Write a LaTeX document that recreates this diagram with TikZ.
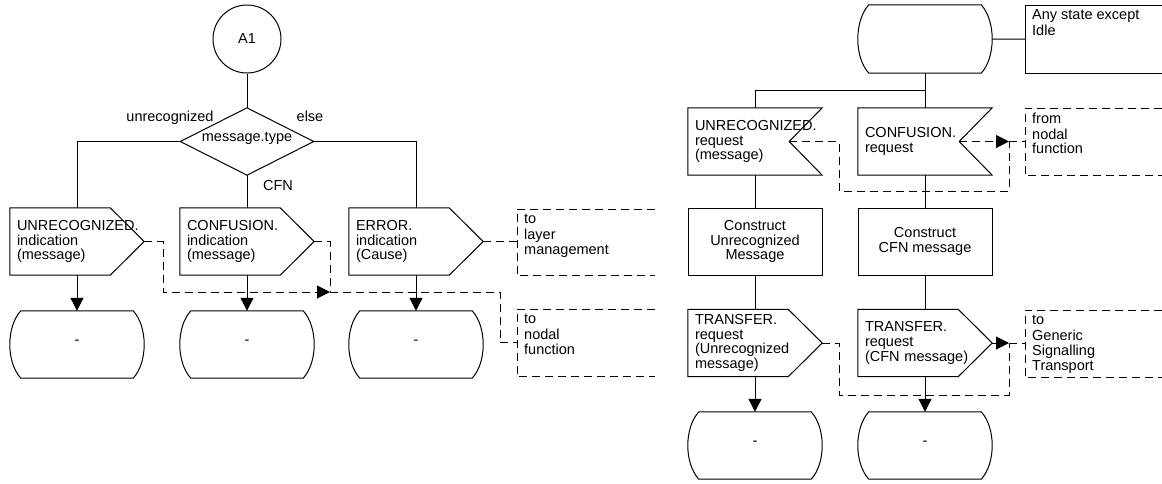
\documentclass[tikz,border=0pt]{standalone}
\usepackage{fontspec}
\setmainfont{Liberation Sans}
\usetikzlibrary{arrows.meta}
\newcommand\statesym[1]{\draw[line] ([xshift=11pt]#1.north west) -- ([xshift=-11pt]#1.north east) .. controls ([xshift=3.67pt,yshift=-16pt]#1.north east) and ([xshift=3.67pt,yshift=16pt]#1.south east) .. ([xshift=-11pt]#1.south east) -- ([xshift=11pt]#1.south west) .. controls ([xshift=-3.67pt,yshift=16pt]#1.south west) and ([xshift=-3.67pt,yshift=-16pt]#1.north west) .. cycle;}
\newcommand\outsig[1]{\draw[line] (#1.north west) -- ([xshift=-34pt]#1.north east) -- (#1.east) -- ([xshift=-34pt]#1.south east) -- (#1.south west) -- cycle;}
\newcommand\insig[1]{\draw[line] (#1.north west) -- (#1.north east) -- ([xshift=-33pt]#1.east) -- (#1.south east) -- (#1.south west) -- cycle;}
\newcommand\decsym[1]{\draw[line] (#1.north) -- (#1.east) -- (#1.south) -- (#1.west) -- cycle;}
\newcommand\brkt[2]{\draw[#2] (#1.north east) -- (#1.north west) -- (#1.south west) -- (#1.south east);}
\begin{document}
\begin{tikzpicture}[x=1pt,y=-1pt,
  every node/.style={font=\fontsize{14.5}{14.7}\selectfont},
  line/.style={line width=1pt, draw=black},
  dsh/.style={line width=1pt, draw=black, dash pattern=on 8pt off 5pt},
  arr/.style={-{Triangle[length=13pt,width=13pt]}},
  sig/.style={minimum height=67pt, text width=120pt, inner xsep=7pt, inner ysep=0pt, align=left},
  stbox/.style={minimum width=134pt, minimum height=67pt, inner sep=0pt, text height=8pt, text depth=8pt},
  task/.style={draw, line width=1pt, minimum width=134pt, minimum height=67pt, inner sep=0pt, align=center},
  brk/.style={inner xsep=7pt, inner ysep=4.5pt, anchor=north west},
  lbl/.style={inner sep=0pt, anchor=base}
]
\useasboundingbox (0,0) rectangle (1162,483);

% ---------- left diagram ----------
\node[draw, line width=1pt, circle, minimum size=68pt, inner sep=0pt] (ca) at (247,39) {A1};
\node[minimum width=133pt, minimum height=67pt, inner sep=0pt, text height=6pt, text depth=6pt] (dec) at (247,141.5) {message.type};
\decsym{dec}
\node[lbl] (lu) at (170,121) {unrecognized};
\node[lbl] (le) at (310,121) {else};
\node[lbl] (lc) at (278,190) {CFN};

\node[sig] (UI) at (77,241.5) {UNRECOGNIZED.\\indication\\(message)};
\node[sig] (CI) at (247,241.5) {CONFUSION.\\indication\\(message)};
\node[sig] (ER) at (416,241.5) {ERROR.\\indication\\(Cause)};
\outsig{UI}\outsig{CI}\outsig{ER}

\node[stbox] (S1) at (77,344.5) {-};
\node[stbox] (S2) at (247,344.5) {-};
\node[stbox] (S3) at (416,344.5) {-};
\statesym{S1}\statesym{S2}\statesym{S3}

\node[brk] (B1) at (517,209) {\parbox[c][57pt][t]{124pt}{\strut to\\layer\\management}};
\node[brk] (B2) at (517,309) {\parbox[c][58pt][t]{124pt}{\strut to\\nodal\\function}};
\brkt{B1}{dsh}\brkt{B2}{dsh}

\draw[line] (ca) -- (dec.north);
\draw[line] (dec.west) -| (UI.north);
\draw[line] (dec.east) -| (ER.north);
\draw[line] (dec.south) -- (CI.north);
\draw[line,arr] (UI.south) -- (S1.north);
\draw[line,arr] (CI.south) -- (S2.north);
\draw[line,arr] (ER.south) -- (S3.north);

\coordinate (jA) at (330,292);
\draw[dsh,arr] (UI.east) -- ++(19,0) |- (jA);
\draw[dsh] (CI.east) -| (jA);
\draw[dsh] (jA) -| ([xshift=-17pt]B2.west) -- (B2.west);
\draw[dsh] (ER.east) -- (ER.east -| B1.west);

% ---------- right diagram ----------
\node[stbox, minimum height=68pt] (S0) at (925,39) {};
\statesym{S0}
\node[brk] (AS) at (1025,5) {\parbox[c][59pt][t]{130pt}{\strut Any state except\\Idle}};
\brkt{AS}{line}

\node[sig] (UR) at (755,141.5) {UNRECOGNIZED.\\request\\(message)};
\node[sig] (CR) at (925,141.5) {CONFUSION.\\request};
\insig{UR}\insig{CR}
\node[brk] (B3) at (1025,108) {\parbox[c][58pt][t]{123pt}{\strut from\\nodal\\function}};
\brkt{B3}{dsh}

\node[task] (CU) at (755,241.5) {Construct\\Unrecognized\\Message};
\node[task] (CC) at (925,241.5) {Construct\\CFN message};

\node[sig] (TU) at (755,343) {TRANSFER.\\request\\(Unrecognized\\message)};
\node[sig] (TC) at (925,343) {TRANSFER.\\request\\(CFN message)};
\outsig{TU}\outsig{TC}
\node[brk] (B4) at (1025,310) {\parbox[c][58pt][t]{123pt}{\strut to\\Generic\\Signalling\\Transport}};
\brkt{B4}{dsh}

\node[stbox] (SU) at (755,445.5) {-};
\node[stbox] (SC) at (925,445.5) {-};
\statesym{SU}\statesym{SC}

\draw[line] (S0.east) -- (AS.west);
\draw[line] (S0.south) -- ++(0,17) -| (UR.north);
\draw[line] (S0.south) -- (CR.north);
\draw[line] (UR.south) -- (CU.north);
\draw[line] (CR.south) -- (CC.north);
\draw[line] (CU.south) -- (TU.north);
\draw[line] (CC.south) -- (TC.north);
\draw[line,arr] (TU.south) -- (SU.north);
\draw[line,arr] (TC.south) -- (SC.north);

\coordinate (jB) at (1009,141.5);
\draw[dsh,arr] ([xshift=-33pt]CR.east) -- (jB);
\draw[dsh] ([xshift=-33pt]UR.east) -- ++(50,0) -- ++(0,49.5) -| (jB);
\draw[dsh] (jB) -- (jB -| B3.west);

\coordinate (jC) at (1009,343);
\draw[dsh,arr] (TC.east) -- (jC);
\draw[dsh] (TU.east) -- ++(17,0) -- ++(0,52) -| (jC);
\draw[dsh] (jC) -- (jC -| B4.west);
\end{tikzpicture}
\end{document}
